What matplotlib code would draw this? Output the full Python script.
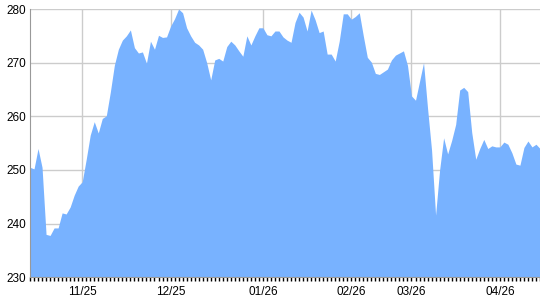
import numpy as np
import matplotlib
matplotlib.use('Agg')
import matplotlib.pyplot as plt

# daily closes, one per trading day
values = [
	250.5, 250.2, 254.0, 250.5, 238.0, 237.8, 239.2, 239.2, 242.0, 241.8,
	243.1, 245.3, 247.0, 247.8, 252.0, 256.5, 259.0, 256.9, 259.6, 260.1,
	264.5, 269.5, 272.5, 274.2, 275.0, 276.1, 272.8, 271.8, 272.0, 269.9,
	274.0, 272.5, 275.1, 274.7, 274.8, 276.8, 278.2, 280.0, 279.3, 276.5,
	275.0, 273.8, 273.3, 272.5, 270.0, 266.8, 270.5, 270.8, 270.3, 273.0,
	274.0, 273.3, 272.2, 271.2, 275.0, 273.3, 275.0, 276.5, 276.5, 275.2,
	275.0, 275.9, 275.9, 274.8, 274.2, 273.8, 277.5, 279.4, 278.5, 275.9,
	279.8, 278.0, 275.6, 275.9, 271.6, 271.6, 270.3, 274.0, 279.1, 279.1,
	278.1, 278.6, 279.3, 275.0, 271.0, 270.1, 268.0, 267.8, 268.3, 268.8,
	270.5, 271.4, 271.8, 272.2, 269.5, 263.8, 263.0, 266.5, 270.0, 261.5,
	253.7, 241.6, 250.0, 256.0, 253.0, 255.5, 258.5, 264.9, 265.4, 264.6,
	257.0, 252.0, 254.0, 255.7, 254.0, 254.5, 254.3, 254.3, 255.2, 254.8,
	253.2, 251.1, 250.9, 254.2, 255.4, 254.3, 254.8, 254.0,
]
month_idx = [13, 35, 58, 80, 95, 117]
month_labels = ['11/25', '12/25', '01/26', '02/26', '03/26', '04/26']
y_ticks = [230, 240, 250, 260, 270, 280]

plt.rcParams['font.family'] = ['Liberation Sans', 'DejaVu Sans']

x = np.arange(len(values))

fig = plt.figure(figsize=(5.4, 3.0), dpi=100)
ax = fig.add_axes([30/540, 1 - 277.3/300, 510/540, (277.3 - 9)/300])

ax.fill_between(x, 230, values, color='#78b2ff', lw=0, zorder=2)

ax.set_xlim(0, len(values) - 1)
ax.set_ylim(230, 280)

ax.set_yticks(y_ticks)
ax.set_xticks(month_idx)
ax.set_xticklabels(month_labels)
ax.set_xticks(x, minor=True)
ax.grid(True, which='major', color='#cccccc', lw=1, zorder=1)
ax.set_axisbelow(True)

ax.tick_params(axis='y', length=0, pad=3, labelsize=8.5, colors='black')
ax.tick_params(axis='x', which='major', length=3, width=1, pad=3, labelsize=8.5, direction='out')
ax.tick_params(axis='x', which='minor', length=3, width=1, direction='out')

for s in ['top', 'right']:
	ax.spines[s].set_visible(False)
ax.spines['left'].set_color('#999999')
ax.spines['bottom'].set_color('#999999')
ax.spines['left'].set_zorder(3)

fig.savefig('out.png', dpi=100)
